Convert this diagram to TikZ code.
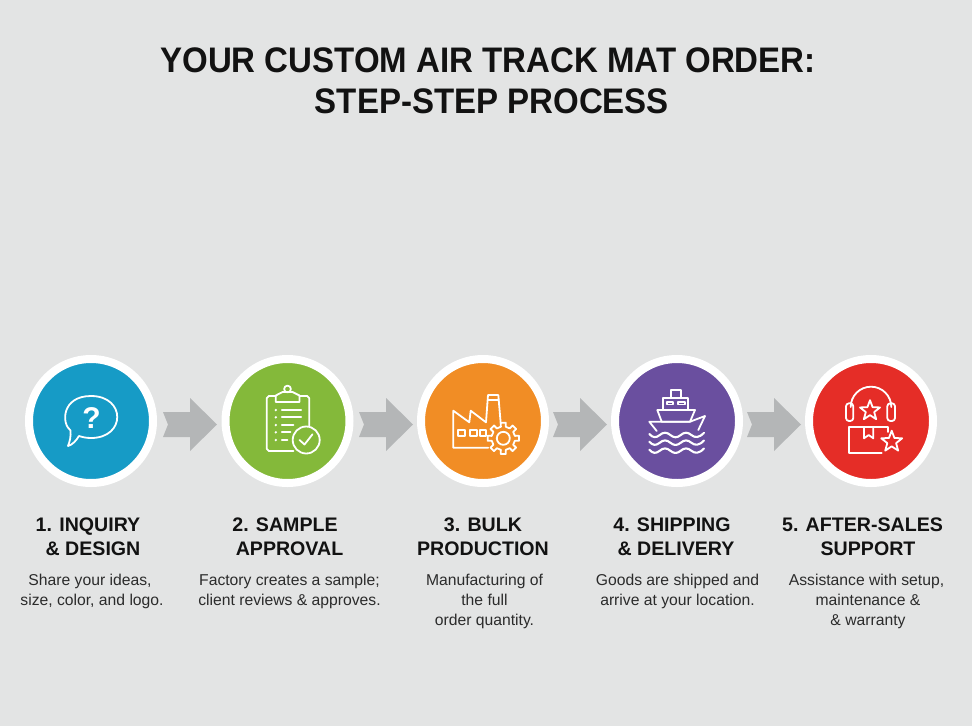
\documentclass[tikz,border=0pt]{standalone}
\usepackage{fontspec}
\setmainfont{Liberation Sans}
\newfontfamily\titlefont[FakeStretch=0.93]{Liberation Sans Bold}
\usetikzlibrary{calc}
\definecolor{bgc}{HTML}{E3E4E4}
\definecolor{arrowc}{HTML}{B4B6B7}
\definecolor{cblue}{HTML}{169BC6}
\definecolor{cgreen}{HTML}{84B93A}
\definecolor{corange}{HTML}{F18D25}
\definecolor{cpurple}{HTML}{6A4F9F}
\definecolor{cred}{HTML}{E52D27}
\definecolor{inkc}{HTML}{121212}
\definecolor{bodyc}{HTML}{2B2B2B}
\tikzset{
  x=1pt,y=-1pt,
  disc/.style={circle,draw=white,line width=8pt,minimum size=124pt,inner sep=0pt,fill=#1},
  blockarrow/.style={fill=arrowc,draw=none},
  icon/.style={draw=white,line width=1.8pt,line join=round,line cap=round,fill=none},
  headtext/.style={font=\bfseries\fontsize{19.6}{24}\selectfont,text=inkc,align=center,anchor=center},
  desctext/.style={font=\fontsize{15.7}{20}\selectfont,text=bodyc,align=center,anchor=center},
  titletext/.style={font=\titlefont\fontsize{35.5}{41}\selectfont,text=inkc,align=center,anchor=center},
}
\newcommand{\stararm}[3]{% centre x, centre y, radius
  \draw[icon] ({#1+#3*cos(-90)},{#2+#3*sin(-90)})
   \foreach \k in {1,...,9}{ -- ({#1+(#3*(1-0.58*mod(\k,2)))*cos(-90+36*\k)},{#2+(#3*(1-0.58*mod(\k,2)))*sin(-90+36*\k)}) } -- cycle;
}
\newcommand{\chevronarrow}[1]{%
  \fill[blockarrow,shift={(#1,424.5)}] (0,-12.5) -- (27,-12.5) -- (27,-26.5) -- (54,0) -- (27,26.5) -- (27,12.5) -- (0,12.5) -- (5,0) -- cycle;
}
\newcommand{\wavepath}[1]{%
  \draw[icon,line width=2.1pt,shift={(0,#1)}] (-27.7,-1)
    .. controls (-24,3) and (-21,3) .. (-17.2,0)
    .. controls (-14,-3) and (-10,-3) .. (-6.7,0)
    .. controls (-3,3) and (0,3) .. (3.8,0)
    .. controls (7,-3) and (11,-3) .. (14.3,0)
    .. controls (18,3) and (22,3) .. (27,-2.2);
}
\begin{document}
\begin{tikzpicture}
\useasboundingbox (0,0) rectangle (972,726);
\fill[bgc] (0,0) rectangle (972,726);

\node[titletext] (title) at (488,81) {YOUR CUSTOM AIR TRACK MAT ORDER:\\\hspace*{8pt}STEP-STEP PROCESS};

\node[disc=cblue]   (c1) at (91,421) {};
\node[disc=cgreen]  (c2) at (287.5,421) {};
\node[disc=corange] (c3) at (483,421) {};
\node[disc=cpurple] (c4) at (677,421) {};
\node[disc=cred]    (c5) at (871,421) {};

\chevronarrow{163}
\chevronarrow{359}
\chevronarrow{553}
\chevronarrow{747}

% icon 1: speech bubble
\begin{scope}[shift={(c1.center)}]
  \draw[icon] (-20.5,9.5) .. controls (-30,2) and (-29,-25) .. (0,-25)
     .. controls (35,-25) and (35,17) .. (0,17)
     .. controls (-5,17) and (-9,16) .. (-12,15)
     .. controls (-15,20) and (-19,24) .. (-23,25)
     .. controls (-21,20) and (-20,15) .. (-20.5,9.5) -- cycle;
  \node[text=white,font=\bfseries\fontsize{30}{30}\selectfont,inner sep=0pt] (q) at (0.5,-3) {?};
\end{scope}

% icon 2: clipboard
\begin{scope}[shift={(c2.center)}]
  \draw[icon] (6,30) -- (-18.7,30) -- ++(-2,-2) -- (-20.7,-23) -- ++(2,-2) -- (-11.7,-25);
  \draw[icon] (12,-25) -- (19.7,-25) -- ++(2,2) -- (21.7,5);
  \draw[icon] (-11.7,-19) -- (-11.7,-25.5) -- (-5,-29) -- (5,-29) -- (12,-25.5) -- (12,-19) -- cycle;
  \draw[icon] (0,-32) circle (3.4);
  \foreach \yy/\xx in {-11/13.7,-3.7/13.7,4/6,11.3/3,19/0}{
    \fill[white] (-11.7,\yy) circle (1.3);
    \draw[icon] (-5.7,\yy) -- (\xx,\yy);
  }
  \draw[icon] (18.7,19) circle (13.5);
  \draw[icon] (12,19) -- (17,23.5) -- (25,13.3);
\end{scope}

% icon 3: factory with gear
\begin{scope}[shift={(c3.center)}]
  \draw[icon] (5.3,26.7) -- (-29.7,26.7) -- (-29.7,-10.3) -- (-13.7,1.3) -- (-12.3,-10.3) -- (3,1.3) -- (5,-26) -- (15.3,-26) -- (17.7,2.3);
  \draw[icon] (4.9,-21) -- (15.7,-21);
  \draw[icon] (-24.7,9) rectangle (-18,14.7);
  \draw[icon] (-13,9) rectangle (-6.3,14.7);
  \draw[icon] (-3,9) rectangle (3,14.7);
  \begin{scope}[shift={(20.3,17.3)}]
    \draw[icon] (-12:11.8)
    \foreach \a in {0,45,...,315}{
       -- ({\a-9}:15.8) -- ({\a+9}:15.8) -- ({\a+12}:11.8) -- ({\a+33}:11.8)
    } -- cycle;
    \draw[icon] (0,0) circle (6.5);
  \end{scope}
\end{scope}

% icon 4: ship
\begin{scope}[shift={(c4.center)}]
  \draw[icon] (-6,-22.7) -- (-6,-31) -- (3.7,-31) -- (3.7,-22.7);
  \draw[icon] (-13.7,-11) -- (-13.7,-22.7) -- (11.3,-22.7) -- (11.3,-11);
  \draw[icon] (-9.7,-19) -- (-3.7,-19) -- (-3.7,-16.5) -- (-9.7,-16.5) -- cycle;
  \draw[icon] (1.3,-19) -- (8,-19) -- (8,-16.5) -- (1.3,-16.5) -- cycle;
  \draw[icon] (-19.7,-11) -- (18,-11) -- (13,0.7) -- (-15.3,0.7) -- cycle;
  \draw[icon] (-20.3,10) -- (-27.7,0.7) -- (13,0.7) -- (28,-5) -- (21.3,9);
  \wavepath{14}
  \wavepath{21.7}
  \wavepath{29.7}
\end{scope}

% icon 5: headset and box
\begin{scope}[shift={(c5.center)}]
  \draw[icon] (-20.3,-14) arc[start angle=180,end angle=360,x radius=20.3,y radius=20.3];
  \draw[icon,rounded corners=3pt] (-17.7,-17.7) -- (-25,-17.7) -- (-25,0) -- (-17.7,0) -- cycle;
  \draw[icon,rounded corners=3pt] (16.3,-17.7) -- (24,-17.7) -- (24,0) -- (16.3,0) -- cycle;
  \stararm{-1}{-10.3}{10.5}
  \draw[icon] (10.7,32) -- (-21.7,32) -- (-21.7,6.3) -- (17.3,6.3) -- (17.3,11);
  \draw[icon] (-7,6.3) -- (-7,17.3) -- (-2.3,14) -- (2.3,17.3) -- (2.3,6.3);
  \stararm{20.7}{20.7}{11}
\end{scope}

\node[headtext] (h1) at (93,537) {\hspace*{-10pt}1. INQUIRY\\\& DESIGN};
\node[headtext] (h2) at (289.5,537) {\hspace*{-9pt}2. SAMPLE\\APPROVAL};
\node[headtext] (h3) at (483,537) {3. BULK\\PRODUCTION};
\node[headtext] (h4) at (676,537) {\hspace*{-8pt}4. SHIPPING\\\& DELIVERY};
\node[headtext] (h5) at (868,537) {\hspace*{-11pt}5. AFTER-SALES\\SUPPORT};

\node[desctext] (d1) at (92,591) {\hspace*{-4pt}Share your ideas,\\size, color, and logo.};
\node[desctext] (d2) at (289.5,591) {Factory creates a sample;\\client reviews \& approves.};
\node[desctext] (d3) at (484.5,601) {Manufacturing of\\the full\\order quantity.};
\node[desctext] (d4) at (677.5,591) {Goods are shipped and\\arrive at your location.};
\node[desctext] (d5) at (868,601) {\hspace*{-3pt}Assistance with setup,\\maintenance \&\\\& warranty};
\end{tikzpicture}
\end{document}
